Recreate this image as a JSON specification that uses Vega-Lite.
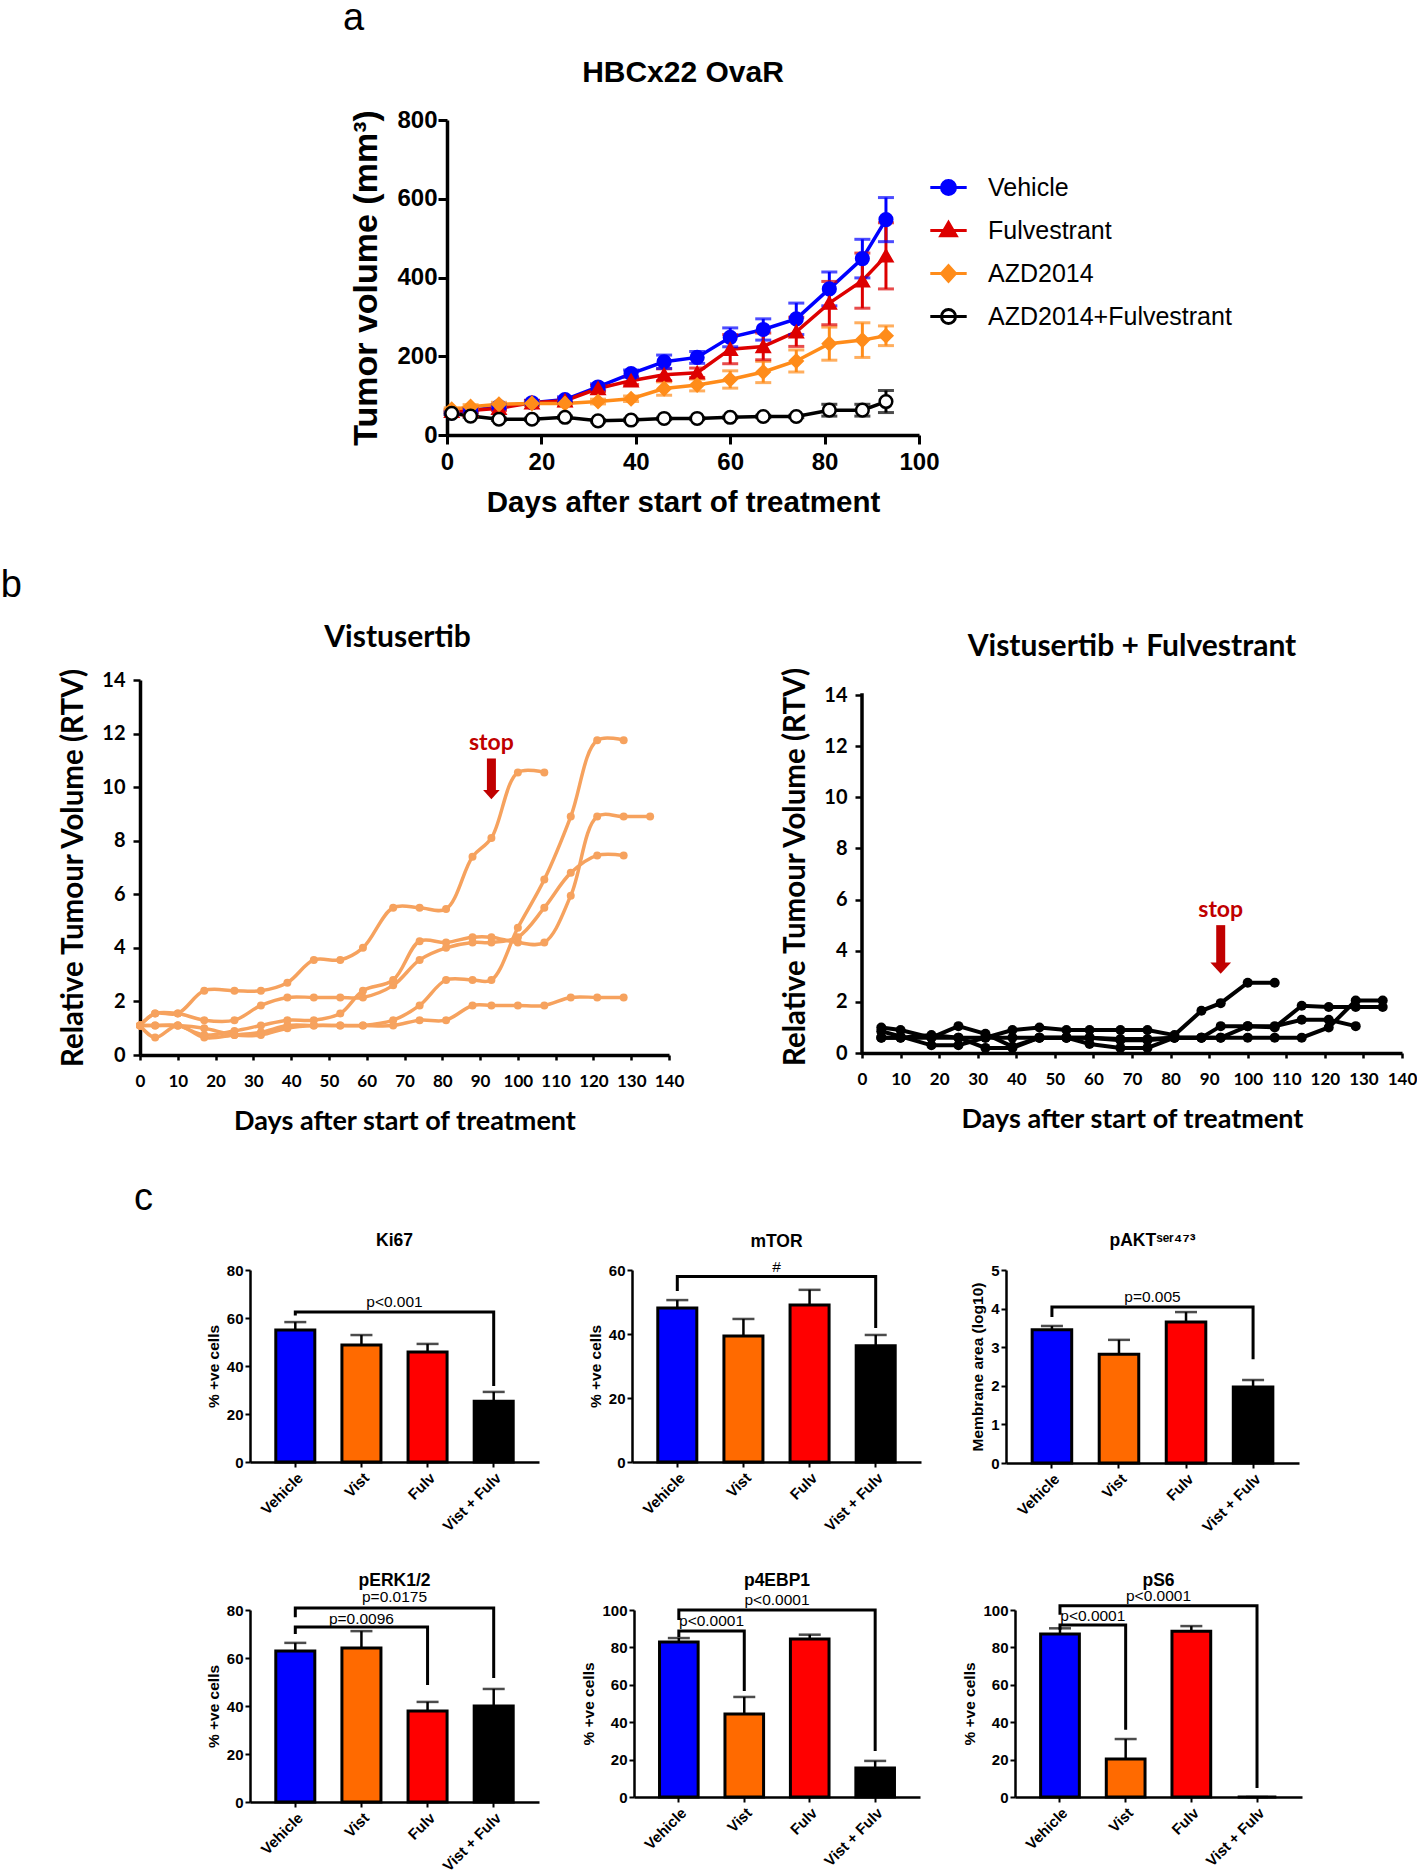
{
"$schema": "https://vega.github.io/schema/vega-lite/v6.json",
"background": "white",
"padding": {"left": 0, "right": 0, "top": 0, "bottom": 0},
"autosize": {"type": "pad"},
"config": {
  "view": {"stroke": null},
  "axis": {"grid": false, "domainColor": "black", "tickColor": "black", "labelColor": "black", "titleColor": "black", "labelOverlap": false},
  "title": {"color": "black"}
},
"datasets": {
  "tumor": [
    {"group":"Vehicle","day":1,"vol":56,"lo":52,"hi":60},{"group":"Vehicle","day":5,"vol":62,"lo":57,"hi":67},{"group":"Vehicle","day":11,"vol":72,"lo":66,"hi":78},{"group":"Vehicle","day":18,"vol":82,"lo":76,"hi":88},{"group":"Vehicle","day":25,"vol":90,"lo":83,"hi":97},{"group":"Vehicle","day":32,"vol":122,"lo":114,"hi":130},{"group":"Vehicle","day":39,"vol":156,"lo":147,"hi":165},{"group":"Vehicle","day":46,"vol":186,"lo":169,"hi":203},{"group":"Vehicle","day":53,"vol":197,"lo":182,"hi":212},{"group":"Vehicle","day":60,"vol":248,"lo":224,"hi":272},{"group":"Vehicle","day":67,"vol":268,"lo":241,"hi":295},{"group":"Vehicle","day":74,"vol":295,"lo":255,"hi":335},{"group":"Vehicle","day":81,"vol":371,"lo":328,"hi":414},{"group":"Vehicle","day":88,"vol":448,"lo":399,"hi":497},{"group":"Vehicle","day":93,"vol":547,"lo":491,"hi":603},
    {"group":"Fulvestrant","day":1,"vol":60,"lo":56,"hi":64},{"group":"Fulvestrant","day":5,"vol":62,"lo":57,"hi":67},{"group":"Fulvestrant","day":11,"vol":68,"lo":62,"hi":74},{"group":"Fulvestrant","day":18,"vol":82,"lo":76,"hi":88},{"group":"Fulvestrant","day":25,"vol":87,"lo":81,"hi":93},{"group":"Fulvestrant","day":32,"vol":118,"lo":110,"hi":126},{"group":"Fulvestrant","day":39,"vol":138,"lo":128,"hi":148},{"group":"Fulvestrant","day":46,"vol":153,"lo":138,"hi":168},{"group":"Fulvestrant","day":53,"vol":158,"lo":146,"hi":170},{"group":"Fulvestrant","day":60,"vol":218,"lo":181,"hi":255},{"group":"Fulvestrant","day":67,"vol":225,"lo":191,"hi":259},{"group":"Fulvestrant","day":74,"vol":262,"lo":225,"hi":299},{"group":"Fulvestrant","day":81,"vol":335,"lo":280,"hi":390},{"group":"Fulvestrant","day":88,"vol":392,"lo":322,"hi":462},{"group":"Fulvestrant","day":93,"vol":455,"lo":371,"hi":539},
    {"group":"AZD2014","day":1,"vol":65,"lo":61,"hi":69},{"group":"AZD2014","day":5,"vol":72,"lo":67,"hi":77},{"group":"AZD2014","day":11,"vol":78,"lo":73,"hi":83},{"group":"AZD2014","day":18,"vol":80,"lo":75,"hi":85},{"group":"AZD2014","day":25,"vol":80,"lo":74,"hi":86},{"group":"AZD2014","day":32,"vol":85,"lo":79,"hi":91},{"group":"AZD2014","day":39,"vol":92,"lo":85,"hi":99},{"group":"AZD2014","day":46,"vol":118,"lo":101,"hi":135},{"group":"AZD2014","day":53,"vol":127,"lo":112,"hi":142},{"group":"AZD2014","day":60,"vol":141,"lo":119,"hi":163},{"group":"AZD2014","day":67,"vol":160,"lo":133,"hi":187},{"group":"AZD2014","day":74,"vol":188,"lo":160,"hi":216},{"group":"AZD2014","day":81,"vol":232,"lo":190,"hi":274},{"group":"AZD2014","day":88,"vol":241,"lo":197,"hi":285},{"group":"AZD2014","day":93,"vol":252,"lo":227,"hi":277},
    {"group":"AZD2014+Fulvestrant","day":1,"vol":55,"lo":52,"hi":58},{"group":"AZD2014+Fulvestrant","day":5,"vol":48,"lo":45,"hi":51},{"group":"AZD2014+Fulvestrant","day":11,"vol":40,"lo":37,"hi":43},{"group":"AZD2014+Fulvestrant","day":18,"vol":40,"lo":37,"hi":43},{"group":"AZD2014+Fulvestrant","day":25,"vol":45,"lo":42,"hi":48},{"group":"AZD2014+Fulvestrant","day":32,"vol":36,"lo":33,"hi":39},{"group":"AZD2014+Fulvestrant","day":39,"vol":38,"lo":35,"hi":41},{"group":"AZD2014+Fulvestrant","day":46,"vol":42,"lo":39,"hi":45},{"group":"AZD2014+Fulvestrant","day":53,"vol":42,"lo":39,"hi":45},{"group":"AZD2014+Fulvestrant","day":60,"vol":45,"lo":42,"hi":48},{"group":"AZD2014+Fulvestrant","day":67,"vol":47,"lo":44,"hi":50},{"group":"AZD2014+Fulvestrant","day":74,"vol":47,"lo":44,"hi":50},{"group":"AZD2014+Fulvestrant","day":81,"vol":63,"lo":48,"hi":78},{"group":"AZD2014+Fulvestrant","day":88,"vol":63,"lo":48,"hi":78},{"group":"AZD2014+Fulvestrant","day":93,"vol":85,"lo":57,"hi":113}
  ],
  "rtv": [
    {"panel":"L","m":"A","day":0,"rtv":1.1},{"panel":"L","m":"A","day":4,"rtv":1.55},{"panel":"L","m":"A","day":10,"rtv":1.55},{"panel":"L","m":"A","day":17,"rtv":2.4},{"panel":"L","m":"A","day":25,"rtv":2.4},{"panel":"L","m":"A","day":32,"rtv":2.4},{"panel":"L","m":"A","day":39,"rtv":2.7},{"panel":"L","m":"A","day":46,"rtv":3.55},{"panel":"L","m":"A","day":53,"rtv":3.55},{"panel":"L","m":"A","day":59,"rtv":4.0},{"panel":"L","m":"A","day":67,"rtv":5.5},{"panel":"L","m":"A","day":74,"rtv":5.5},{"panel":"L","m":"A","day":81,"rtv":5.45},{"panel":"L","m":"A","day":88,"rtv":7.4},{"panel":"L","m":"A","day":93,"rtv":8.1},{"panel":"L","m":"A","day":100,"rtv":10.55},{"panel":"L","m":"A","day":107,"rtv":10.55},
    {"panel":"L","m":"B","day":0,"rtv":1.1},{"panel":"L","m":"B","day":4,"rtv":0.65},{"panel":"L","m":"B","day":10,"rtv":1.1},{"panel":"L","m":"B","day":17,"rtv":0.65},{"panel":"L","m":"B","day":25,"rtv":0.75},{"panel":"L","m":"B","day":32,"rtv":0.85},{"panel":"L","m":"B","day":39,"rtv":1.1},{"panel":"L","m":"B","day":46,"rtv":1.1},{"panel":"L","m":"B","day":53,"rtv":1.1},{"panel":"L","m":"B","day":59,"rtv":1.1},{"panel":"L","m":"B","day":67,"rtv":1.3},{"panel":"L","m":"B","day":74,"rtv":1.85},{"panel":"L","m":"B","day":81,"rtv":2.8},{"panel":"L","m":"B","day":88,"rtv":2.8},{"panel":"L","m":"B","day":93,"rtv":2.8},{"panel":"L","m":"B","day":100,"rtv":4.75},{"panel":"L","m":"B","day":107,"rtv":6.55},{"panel":"L","m":"B","day":114,"rtv":8.9},{"panel":"L","m":"B","day":121,"rtv":11.75},{"panel":"L","m":"B","day":128,"rtv":11.75},
    {"panel":"L","m":"C","day":0,"rtv":1.1},{"panel":"L","m":"C","day":4,"rtv":1.1},{"panel":"L","m":"C","day":10,"rtv":1.1},{"panel":"L","m":"C","day":17,"rtv":0.75},{"panel":"L","m":"C","day":25,"rtv":0.9},{"panel":"L","m":"C","day":32,"rtv":1.1},{"panel":"L","m":"C","day":39,"rtv":1.3},{"panel":"L","m":"C","day":46,"rtv":1.3},{"panel":"L","m":"C","day":53,"rtv":1.55},{"panel":"L","m":"C","day":59,"rtv":2.4},{"panel":"L","m":"C","day":67,"rtv":2.8},{"panel":"L","m":"C","day":74,"rtv":4.25},{"panel":"L","m":"C","day":81,"rtv":4.2},{"panel":"L","m":"C","day":88,"rtv":4.4},{"panel":"L","m":"C","day":93,"rtv":4.4},{"panel":"L","m":"C","day":100,"rtv":4.2},{"panel":"L","m":"C","day":107,"rtv":4.2},{"panel":"L","m":"C","day":114,"rtv":5.95},{"panel":"L","m":"C","day":121,"rtv":8.9},{"panel":"L","m":"C","day":128,"rtv":8.9},{"panel":"L","m":"C","day":135,"rtv":8.9},
    {"panel":"L","m":"D","day":0,"rtv":1.1},{"panel":"L","m":"D","day":4,"rtv":1.55},{"panel":"L","m":"D","day":10,"rtv":1.55},{"panel":"L","m":"D","day":17,"rtv":1.3},{"panel":"L","m":"D","day":25,"rtv":1.3},{"panel":"L","m":"D","day":32,"rtv":1.85},{"panel":"L","m":"D","day":39,"rtv":2.15},{"panel":"L","m":"D","day":46,"rtv":2.15},{"panel":"L","m":"D","day":53,"rtv":2.15},{"panel":"L","m":"D","day":59,"rtv":2.15},{"panel":"L","m":"D","day":67,"rtv":2.6},{"panel":"L","m":"D","day":74,"rtv":3.55},{"panel":"L","m":"D","day":81,"rtv":4.0},{"panel":"L","m":"D","day":88,"rtv":4.2},{"panel":"L","m":"D","day":93,"rtv":4.2},{"panel":"L","m":"D","day":100,"rtv":4.4},{"panel":"L","m":"D","day":107,"rtv":5.5},{"panel":"L","m":"D","day":114,"rtv":6.8},{"panel":"L","m":"D","day":121,"rtv":7.45},{"panel":"L","m":"D","day":128,"rtv":7.45},
    {"panel":"L","m":"E","day":0,"rtv":1.1},{"panel":"L","m":"E","day":4,"rtv":1.1},{"panel":"L","m":"E","day":10,"rtv":1.1},{"panel":"L","m":"E","day":17,"rtv":1.0},{"panel":"L","m":"E","day":25,"rtv":0.75},{"panel":"L","m":"E","day":32,"rtv":0.75},{"panel":"L","m":"E","day":39,"rtv":1.0},{"panel":"L","m":"E","day":46,"rtv":1.1},{"panel":"L","m":"E","day":53,"rtv":1.1},{"panel":"L","m":"E","day":59,"rtv":1.1},{"panel":"L","m":"E","day":67,"rtv":1.1},{"panel":"L","m":"E","day":74,"rtv":1.3},{"panel":"L","m":"E","day":81,"rtv":1.3},{"panel":"L","m":"E","day":88,"rtv":1.85},{"panel":"L","m":"E","day":93,"rtv":1.85},{"panel":"L","m":"E","day":100,"rtv":1.85},{"panel":"L","m":"E","day":107,"rtv":1.85},{"panel":"L","m":"E","day":114,"rtv":2.15},{"panel":"L","m":"E","day":121,"rtv":2.15},{"panel":"L","m":"E","day":128,"rtv":2.15},
    {"panel":"R","m":"S1","day":5,"rtv":1.0},{"panel":"R","m":"S1","day":10,"rtv":0.9},{"panel":"R","m":"S1","day":18,"rtv":0.6},{"panel":"R","m":"S1","day":25,"rtv":0.6},{"panel":"R","m":"S1","day":32,"rtv":0.6},{"panel":"R","m":"S1","day":39,"rtv":0.9},{"panel":"R","m":"S1","day":46,"rtv":1.0},{"panel":"R","m":"S1","day":53,"rtv":0.9},{"panel":"R","m":"S1","day":59,"rtv":0.9},{"panel":"R","m":"S1","day":67,"rtv":0.9},{"panel":"R","m":"S1","day":74,"rtv":0.9},{"panel":"R","m":"S1","day":81,"rtv":0.7},{"panel":"R","m":"S1","day":88,"rtv":1.65},{"panel":"R","m":"S1","day":93,"rtv":1.95},{"panel":"R","m":"S1","day":100,"rtv":2.75},{"panel":"R","m":"S1","day":107,"rtv":2.75},
    {"panel":"R","m":"S2","day":5,"rtv":0.85},{"panel":"R","m":"S2","day":10,"rtv":0.65},{"panel":"R","m":"S2","day":18,"rtv":0.3},{"panel":"R","m":"S2","day":25,"rtv":0.3},{"panel":"R","m":"S2","day":32,"rtv":0.6},{"panel":"R","m":"S2","day":39,"rtv":0.6},{"panel":"R","m":"S2","day":46,"rtv":0.6},{"panel":"R","m":"S2","day":53,"rtv":0.6},{"panel":"R","m":"S2","day":59,"rtv":0.6},{"panel":"R","m":"S2","day":67,"rtv":0.55},{"panel":"R","m":"S2","day":74,"rtv":0.55},{"panel":"R","m":"S2","day":81,"rtv":0.6},{"panel":"R","m":"S2","day":88,"rtv":0.6},{"panel":"R","m":"S2","day":93,"rtv":1.05},{"panel":"R","m":"S2","day":100,"rtv":1.05},{"panel":"R","m":"S2","day":107,"rtv":1.0},{"panel":"R","m":"S2","day":114,"rtv":1.85},{"panel":"R","m":"S2","day":121,"rtv":1.8},{"panel":"R","m":"S2","day":128,"rtv":1.8},{"panel":"R","m":"S2","day":135,"rtv":1.8},
    {"panel":"R","m":"S3","day":5,"rtv":0.6},{"panel":"R","m":"S3","day":10,"rtv":0.6},{"panel":"R","m":"S3","day":18,"rtv":0.6},{"panel":"R","m":"S3","day":25,"rtv":1.05},{"panel":"R","m":"S3","day":32,"rtv":0.75},{"panel":"R","m":"S3","day":39,"rtv":0.25},{"panel":"R","m":"S3","day":46,"rtv":0.6},{"panel":"R","m":"S3","day":53,"rtv":0.6},{"panel":"R","m":"S3","day":59,"rtv":0.35},{"panel":"R","m":"S3","day":67,"rtv":0.2},{"panel":"R","m":"S3","day":74,"rtv":0.2},{"panel":"R","m":"S3","day":81,"rtv":0.6},{"panel":"R","m":"S3","day":88,"rtv":0.6},{"panel":"R","m":"S3","day":93,"rtv":0.6},{"panel":"R","m":"S3","day":100,"rtv":1.05},{"panel":"R","m":"S3","day":107,"rtv":1.05},{"panel":"R","m":"S3","day":114,"rtv":1.3},{"panel":"R","m":"S3","day":121,"rtv":1.3},{"panel":"R","m":"S3","day":128,"rtv":1.05},
    {"panel":"R","m":"S4","day":5,"rtv":0.6},{"panel":"R","m":"S4","day":10,"rtv":0.6},{"panel":"R","m":"S4","day":18,"rtv":0.7},{"panel":"R","m":"S4","day":25,"rtv":0.6},{"panel":"R","m":"S4","day":32,"rtv":0.2},{"panel":"R","m":"S4","day":39,"rtv":0.2},{"panel":"R","m":"S4","day":46,"rtv":0.6},{"panel":"R","m":"S4","day":53,"rtv":0.6},{"panel":"R","m":"S4","day":59,"rtv":0.6},{"panel":"R","m":"S4","day":67,"rtv":0.5},{"panel":"R","m":"S4","day":74,"rtv":0.5},{"panel":"R","m":"S4","day":81,"rtv":0.6},{"panel":"R","m":"S4","day":88,"rtv":0.6},{"panel":"R","m":"S4","day":93,"rtv":0.6},{"panel":"R","m":"S4","day":100,"rtv":0.6},{"panel":"R","m":"S4","day":107,"rtv":0.6},{"panel":"R","m":"S4","day":114,"rtv":0.6},{"panel":"R","m":"S4","day":121,"rtv":1.0},{"panel":"R","m":"S4","day":128,"rtv":2.05},{"panel":"R","m":"S4","day":135,"rtv":2.05}
  ],
  "stop": [
    {"panel":"L","day":93,"top":11.07,"bot":9.8,"tip":9.72,"ty":11.65,"label":"stop"},
    {"panel":"R","day":93,"top":5.0,"bot":3.4,"tip":3.32,"ty":5.58,"label":"stop"}
  ],
  "bars": [
    {"chart":"Ki67","cat":"Vehicle","idx":0,"val":55,"top":58.3},{"chart":"Ki67","cat":"Vist","idx":1,"val":48.8,"top":52.9},{"chart":"Ki67","cat":"Fulv","idx":2,"val":45.8,"top":49.2},{"chart":"Ki67","cat":"Vist + Fulv","idx":3,"val":25.3,"top":29.2},
    {"chart":"mTOR","cat":"Vehicle","idx":0,"val":48.1,"top":50.6},{"chart":"mTOR","cat":"Vist","idx":1,"val":39.4,"top":44.7},{"chart":"mTOR","cat":"Fulv","idx":2,"val":49.1,"top":53.8},{"chart":"mTOR","cat":"Vist + Fulv","idx":3,"val":36.3,"top":39.7},
    {"chart":"pAKT","cat":"Vehicle","idx":0,"val":3.45,"top":3.55},{"chart":"pAKT","cat":"Vist","idx":1,"val":2.82,"top":3.19},{"chart":"pAKT","cat":"Fulv","idx":2,"val":3.65,"top":3.91},{"chart":"pAKT","cat":"Vist + Fulv","idx":3,"val":1.97,"top":2.15},
    {"chart":"pERK","cat":"Vehicle","idx":0,"val":62.9,"top":66.3},{"chart":"pERK","cat":"Vist","idx":1,"val":64.2,"top":71.2},{"chart":"pERK","cat":"Fulv","idx":2,"val":37.9,"top":41.7},{"chart":"pERK","cat":"Vist + Fulv","idx":3,"val":40,"top":47.1},
    {"chart":"p4EBP1","cat":"Vehicle","idx":0,"val":82.9,"top":85},{"chart":"p4EBP1","cat":"Vist","idx":1,"val":44.4,"top":53.5},{"chart":"p4EBP1","cat":"Fulv","idx":2,"val":84.5,"top":86.8},{"chart":"p4EBP1","cat":"Vist + Fulv","idx":3,"val":15.5,"top":19.3},
    {"chart":"pS6","cat":"Vehicle","idx":0,"val":87.2,"top":90.2},{"chart":"pS6","cat":"Vist","idx":1,"val":20.3,"top":31},{"chart":"pS6","cat":"Fulv","idx":2,"val":88.6,"top":91.4},{"chart":"pS6","cat":"Vist + Fulv","idx":3,"val":0,"top":0}
  ],
  "brk": [
    {"chart":"Ki67","b":"1","seq":1,"x":0,"y":61},{"chart":"Ki67","b":"1","seq":2,"x":0,"y":62.5},{"chart":"Ki67","b":"1","seq":3,"x":3,"y":62.5},{"chart":"Ki67","b":"1","seq":4,"x":3,"y":31.7},
    {"chart":"mTOR","b":"1","seq":1,"x":0,"y":53.4},{"chart":"mTOR","b":"1","seq":2,"x":0,"y":58},{"chart":"mTOR","b":"1","seq":3,"x":3,"y":58},{"chart":"mTOR","b":"1","seq":4,"x":3,"y":41.9},
    {"chart":"pAKT","b":"1","seq":1,"x":0,"y":3.78},{"chart":"pAKT","b":"1","seq":2,"x":0,"y":4.04},{"chart":"pAKT","b":"1","seq":3,"x":3,"y":4.04},{"chart":"pAKT","b":"1","seq":4,"x":3,"y":2.69},
    {"chart":"pERK","b":"1","seq":1,"x":0,"y":77},{"chart":"pERK","b":"1","seq":2,"x":0,"y":80.8},{"chart":"pERK","b":"1","seq":3,"x":3,"y":80.8},{"chart":"pERK","b":"1","seq":4,"x":3,"y":51.7},
    {"chart":"pERK","b":"2","seq":1,"x":0,"y":70},{"chart":"pERK","b":"2","seq":2,"x":0,"y":72.9},{"chart":"pERK","b":"2","seq":3,"x":2,"y":72.9},{"chart":"pERK","b":"2","seq":4,"x":2,"y":48.7},
    {"chart":"p4EBP1","b":"1","seq":1,"x":0,"y":94.6},{"chart":"p4EBP1","b":"1","seq":2,"x":0,"y":100},{"chart":"p4EBP1","b":"1","seq":3,"x":3,"y":100},{"chart":"p4EBP1","b":"1","seq":4,"x":3,"y":24.6},
    {"chart":"p4EBP1","b":"2","seq":1,"x":0,"y":85.5},{"chart":"p4EBP1","b":"2","seq":2,"x":0,"y":88.8},{"chart":"p4EBP1","b":"2","seq":3,"x":1,"y":88.8},{"chart":"p4EBP1","b":"2","seq":4,"x":1,"y":56.7},
    {"chart":"pS6","b":"1","seq":1,"x":0,"y":97.5},{"chart":"pS6","b":"1","seq":2,"x":0,"y":102.3},{"chart":"pS6","b":"1","seq":3,"x":3,"y":102.3},{"chart":"pS6","b":"1","seq":4,"x":3,"y":4.8},
    {"chart":"pS6","b":"2","seq":1,"x":0,"y":89.5},{"chart":"pS6","b":"2","seq":2,"x":0,"y":92},{"chart":"pS6","b":"2","seq":3,"x":1,"y":92},{"chart":"pS6","b":"2","seq":4,"x":1,"y":36}
  ],
  "ptxt": [
    {"chart":"Ki67","x":1.5,"y":66.5,"label":"p<0.001"},
    {"chart":"mTOR","x":1.5,"y":61,"label":"#"},
    {"chart":"pAKT","x":1.5,"y":4.29,"label":"p=0.005"},
    {"chart":"pERK","x":1.5,"y":85.4,"label":"p=0.0175"},{"chart":"pERK","x":1.0,"y":76.2,"label":"p=0.0096"},
    {"chart":"p4EBP1","x":1.5,"y":105.3,"label":"p<0.0001"},{"chart":"p4EBP1","x":0.5,"y":94.1,"label":"p<0.0001"},
    {"chart":"pS6","x":1.5,"y":107.5,"label":"p<0.0001"},{"chart":"pS6","x":0.5,"y":96.8,"label":"p<0.0001"}
  ]
},
"spacing": 50,
"vconcat": [
  {
    "title": {"text": "a", "anchor": "start", "dx": 203, "offset": 20, "font": "Liberation Sans", "fontSize": 38, "fontWeight": "normal"},
    "spacing": 0,
    "hconcat": [
      {"width": 209, "height": 10, "data": {"values": []}, "mark": "point"},
      {
        "width": 472, "height": 315,
        "title": {"text": "HBCx22 OvaR", "font": "Liberation Sans", "fontSize": 30, "fontWeight": "bold", "frame": "group", "offset": 20},
        "data": {"name": "tumor"},
        "layer": [
          {"mark": {"type": "line", "strokeWidth": 3.5},
           "encoding": {
             "x": {"field": "day", "type": "quantitative", "scale": {"domain": [0, 100], "nice": false}, "axis": {"values": [0,20,40,60,80,100], "tickCount": 30, "format": "d", "title": "Days after start of treatment", "titleFont": "Liberation Sans", "titleFontSize": 29.5, "titleFontWeight": "bold", "titlePadding": 14, "labelFont": "Liberation Sans", "labelFontSize": 24, "labelFontWeight": "bold", "labelPadding": 6, "tickSize": 9, "tickWidth": 3, "domainWidth": 3.5, "labelFlush": false}},
             "y": {"field": "vol", "type": "quantitative", "scale": {"domain": [0, 800], "nice": false}, "axis": {"values": [0,200,400,600,800], "tickCount": 30, "format": "d", "title": "Tumor volume (mm³)", "titleFont": "Liberation Sans", "titleFontSize": 34, "titleFontWeight": "bold", "titlePadding": 13, "labelFont": "Liberation Sans", "labelFontSize": 24, "labelFontWeight": "bold", "labelPadding": 1, "tickSize": 9, "tickWidth": 3, "domainWidth": 3.5}},
             "color": {"field": "group", "type": "nominal", "scale": {"domain": ["Vehicle","Fulvestrant","AZD2014","AZD2014+Fulvestrant"], "range": ["#0000FF","#DD0000","#FF8C1A","#000000"]}, "legend": null}
           }},
          {"mark": {"type": "rule", "strokeWidth": 3},
           "encoding": {"x": {"field": "day", "type": "quantitative"}, "y": {"field": "lo", "type": "quantitative"}, "y2": {"field": "hi"}, "color": {"field": "group", "type": "nominal", "legend": null}}},
          {"mark": {"type": "tick", "orient": "horizontal", "size": 16, "thickness": 3},
           "encoding": {"x": {"field": "day", "type": "quantitative"}, "y": {"field": "hi", "type": "quantitative"}, "color": {"field": "group", "type": "nominal", "legend": null}}},
          {"mark": {"type": "tick", "orient": "horizontal", "size": 16, "thickness": 3},
           "encoding": {"x": {"field": "day", "type": "quantitative"}, "y": {"field": "lo", "type": "quantitative"}, "color": {"field": "group", "type": "nominal", "legend": null}}},
          {"mark": {"type": "point", "filled": true, "size": 160, "strokeWidth": 2.5, "opacity": 1},
           "encoding": {
             "x": {"field": "day", "type": "quantitative"},
             "y": {"field": "vol", "type": "quantitative"},
             "shape": {"field": "group", "type": "nominal", "scale": {"domain": ["Vehicle","Fulvestrant","AZD2014","AZD2014+Fulvestrant"], "range": ["circle","triangle-up","diamond","circle"]}, "legend": null},
             "fill": {"field": "group", "type": "nominal", "scale": {"domain": ["Vehicle","Fulvestrant","AZD2014","AZD2014+Fulvestrant"], "range": ["#0000FF","#DD0000","#FF8C1A","#FFFFFF"]}, "legend": null},
             "stroke": {"field": "group", "type": "nominal", "scale": {"domain": ["Vehicle","Fulvestrant","AZD2014","AZD2014+Fulvestrant"], "range": ["#0000FF","#DD0000","#FF8C1A","#000000"]}, "legend": null}
           }},
          {"transform": [{"filter": "false"}],
           "mark": {"type": "point", "filled": true, "size": 196, "strokeWidth": 3, "opacity": 1},
           "encoding": {
             "x": {"field": "day", "type": "quantitative"},
             "y": {"field": "vol", "type": "quantitative"},
             "shape": {"field": "group", "type": "nominal", "scale": {"domain": ["Vehicle","Fulvestrant","AZD2014","AZD2014+Fulvestrant"], "range": ["M-2.6,0H2.6M-1,0A1,1,0,1,1,1,0A1,1,0,1,1,-1,0Z","M-2.6,0H2.6M0,-1.15L1.1,0.75L-1.1,0.75Z","M-2.6,0H2.6M0,-1.1L1,0L0,1.1L-1,0Z","M-2.6,0H2.6M-1,0A1,1,0,1,1,1,0A1,1,0,1,1,-1,0Z"]},
               "legend": {"orient": "none", "legendX": 489, "legendY": 55, "title": null, "labelFont": "Liberation Sans", "labelFontSize": 25, "labelColor": "black", "symbolSize": 196, "symbolStrokeWidth": 3, "labelOffset": 27, "rowPadding": 15, "padding": 0, "labelLimit": 400}},
             "fill": {"field": "group", "type": "nominal", "scale": {"domain": ["Vehicle","Fulvestrant","AZD2014","AZD2014+Fulvestrant"], "range": ["#0000FF","#DD0000","#FF8C1A","#FFFFFF"]},
               "legend": {"orient": "none", "legendX": 489, "legendY": 55, "title": null, "labelFont": "Liberation Sans", "labelFontSize": 25, "labelColor": "black", "symbolSize": 196, "symbolStrokeWidth": 3, "labelOffset": 27, "rowPadding": 15, "padding": 0, "labelLimit": 400}},
             "stroke": {"field": "group", "type": "nominal", "scale": {"domain": ["Vehicle","Fulvestrant","AZD2014","AZD2014+Fulvestrant"], "range": ["#0000FF","#DD0000","#FF8C1A","#000000"]},
               "legend": {"orient": "none", "legendX": 489, "legendY": 55, "title": null, "labelFont": "Liberation Sans", "labelFontSize": 25, "labelColor": "black", "symbolSize": 196, "symbolStrokeWidth": 3, "labelOffset": 27, "rowPadding": 15, "padding": 0, "labelLimit": 400}}
           }}
        ],
        "resolve": {"scale": {"shape": "independent", "fill": "independent", "stroke": "independent"}, "legend": {"shape": "independent", "fill": "independent", "stroke": "independent"}}
      }
    ]
  },
  {
    "spacing": 45,
    "vconcat": [
      {
        "title": {"text": "b", "anchor": "start", "dx": -58, "offset": 18, "font": "Liberation Sans", "fontSize": 38, "fontWeight": "normal"},
        "spacing": 96,
        "columns": 2,
        "align": "none",
        "concat": [
          {
            "width": 529, "height": 375,
            "title": {"text": "Vistusertib", "font": "Lato", "fontSize": 30, "fontWeight": "bold", "frame": "group", "offset": 14, "dx": -7},
            "layer": [
              {"data": {"name": "rtv"}, "transform": [{"filter": "datum.panel === 'L'"}],
               "mark": {"type": "line", "interpolate": "catmull-rom", "strokeWidth": 3.5, "color": "#F6A25E"},
               "encoding": {
                 "x": {"field": "day", "type": "quantitative", "scale": {"domain": [0, 140], "nice": false}, "axis": {"values": [0,10,20,30,40,50,60,70,80,90,100,110,120,130,140], "tickCount": 30, "format": "d", "title": "Days after start of treatment", "titleFont": "Lato", "titleFontSize": 27, "titleFontWeight": "bold", "titlePadding": 19, "labelFont": "Lato", "labelFontSize": 17, "labelFontWeight": "bold", "labelPadding": 13, "tickSize": 5, "tickWidth": 2.5, "domainWidth": 3.5, "labelFlush": false, "labelOverlap": false}},
                 "y": {"field": "rtv", "type": "quantitative", "scale": {"domain": [0, 14], "nice": false}, "axis": {"values": [0,2,4,6,8,10,12,14], "tickCount": 30, "format": "d", "title": "Relative Tumour Volume (RTV)", "titleFont": "Lato", "titleFontSize": 29.5, "titleFontWeight": "bold", "titlePadding": 13, "labelFont": "Lato", "labelFontSize": 20, "labelFontWeight": "bold", "labelPadding": 8, "tickSize": 7, "tickWidth": 2.5, "domainWidth": 3.5}},
                 "detail": {"field": "m", "type": "nominal"}
               }},
              {"data": {"name": "rtv"}, "transform": [{"filter": "datum.panel === 'L'"}],
               "mark": {"type": "point", "filled": true, "size": 64, "color": "#F6A25E", "opacity": 1},
               "encoding": {"x": {"field": "day", "type": "quantitative"}, "y": {"field": "rtv", "type": "quantitative"}}},
              {"data": {"name": "stop"}, "transform": [{"filter": "datum.panel === 'L'"}],
               "mark": {"type": "rule", "strokeWidth": 9, "color": "#C00000"},
               "encoding": {"x": {"field": "day", "type": "quantitative"}, "y": {"field": "top", "type": "quantitative"}, "y2": {"field": "bot"}}},
              {"data": {"name": "stop"}, "transform": [{"filter": "datum.panel === 'L'"}],
               "mark": {"type": "point", "shape": "M-1,-0.55L1,-0.55L0,0.55Z", "filled": true, "size": 276, "color": "#C00000", "opacity": 1},
               "encoding": {"x": {"field": "day", "type": "quantitative"}, "y": {"field": "tip", "type": "quantitative"}}},
              {"data": {"name": "stop"}, "transform": [{"filter": "datum.panel === 'L'"}],
               "mark": {"type": "text", "font": "Lato", "fontWeight": "bold", "fontSize": 23, "color": "#C00000", "baseline": "middle"},
               "encoding": {"x": {"field": "day", "type": "quantitative"}, "y": {"field": "ty", "type": "quantitative"}, "text": {"field": "label"}}}
            ]
          },
          {
            "width": 540, "height": 373,
            "title": {"text": "Vistusertib + Fulvestrant", "font": "Lato", "fontSize": 30, "fontWeight": "bold", "frame": "group", "offset": 4.5},
            "layer": [
              {"data": {"name": "rtv"}, "transform": [{"filter": "datum.panel === 'R'"}],
               "mark": {"type": "line", "strokeWidth": 4, "color": "black"},
               "encoding": {
                 "x": {"field": "day", "type": "quantitative", "scale": {"domain": [0, 140], "nice": false}, "axis": {"values": [0,10,20,30,40,50,60,70,80,90,100,110,120,130,140], "tickCount": 30, "format": "d", "title": "Days after start of treatment", "titleFont": "Lato", "titleFontSize": 27, "titleFontWeight": "bold", "titlePadding": 19, "labelFont": "Lato", "labelFontSize": 17, "labelFontWeight": "bold", "labelPadding": 13, "tickSize": 5, "tickWidth": 2.5, "domainWidth": 3.5, "labelFlush": false, "labelOverlap": false}},
                 "y": {"field": "rtv", "type": "quantitative", "scale": {"domain": [0, 14.587], "nice": false}, "axis": {"values": [0,2,4,6,8,10,12,14], "tickCount": 30, "format": "d", "domain": false, "title": "Relative Tumour Volume (RTV)", "titleFont": "Lato", "titleFontSize": 29.5, "titleFontWeight": "bold", "titlePadding": 13, "labelFont": "Lato", "labelFontSize": 20, "labelFontWeight": "bold", "labelPadding": 8, "tickSize": 7, "tickWidth": 2.5}},
                 "detail": {"field": "m", "type": "nominal"}
               }},
              {"data": {"values": [{}]},
               "mark": {"type": "rule", "strokeWidth": 3.5, "color": "black", "strokeCap": "square"},
               "encoding": {"x": {"datum": 0, "type": "quantitative"}, "y": {"datum": 0, "type": "quantitative"}, "y2": {"datum": 14}}},
              {"data": {"name": "rtv"}, "transform": [{"filter": "datum.panel === 'R'"}],
               "mark": {"type": "point", "filled": true, "size": 100, "color": "black", "opacity": 1},
               "encoding": {"x": {"field": "day", "type": "quantitative"}, "y": {"field": "rtv", "type": "quantitative"}}},
              {"data": {"name": "stop"}, "transform": [{"filter": "datum.panel === 'R'"}],
               "mark": {"type": "rule", "strokeWidth": 9, "color": "#C00000"},
               "encoding": {"x": {"field": "day", "type": "quantitative"}, "y": {"field": "top", "type": "quantitative"}, "y2": {"field": "bot"}}},
              {"data": {"name": "stop"}, "transform": [{"filter": "datum.panel === 'R'"}],
               "mark": {"type": "point", "shape": "M-1,-0.55L1,-0.55L0,0.55Z", "filled": true, "size": 428, "color": "#C00000", "opacity": 1},
               "encoding": {"x": {"field": "day", "type": "quantitative"}, "y": {"field": "tip", "type": "quantitative"}}},
              {"data": {"name": "stop"}, "transform": [{"filter": "datum.panel === 'R'"}],
               "mark": {"type": "text", "font": "Lato", "fontWeight": "bold", "fontSize": 23, "color": "#C00000", "baseline": "middle"},
               "encoding": {"x": {"field": "day", "type": "quantitative"}, "y": {"field": "ty", "type": "quantitative"}, "text": {"field": "label"}}}
            ]
          }
        ]
      },
      {
        "title": {"text": "c", "anchor": "start", "dx": -6, "offset": 14, "font": "Liberation Sans", "fontSize": 38, "fontWeight": "normal"},
        "spacing": 36,
        "vconcat": [
          {
            "spacing": 49,
            "hconcat": [
              {"width": 17, "height": 10, "data": {"values": []}, "mark": "point"},
              {
                "width": 289, "height": 192,
                "title": {"text": "Ki67", "font": "Liberation Sans", "fontSize": 17.5, "fontWeight": "bold", "frame": "group", "offset": 14},
                "layer": [
                  {"data": {"name": "bars"}, "transform": [{"filter": "datum.chart === 'Ki67'"}],
                   "mark": {"type": "bar", "stroke": "black", "strokeWidth": 3},
                   "encoding": {
                     "x": {"field": "cat", "type": "nominal", "sort": null, "scale": {"domain": ["Vehicle","Vist","Fulv","Vist + Fulv"], "paddingInner": 0.41, "paddingOuter": 0.39}, "axis": {"title": null, "labelAngle": -45, "labelAlign": "right", "labelBaseline": "top", "labelFont": "Liberation Sans", "labelFontSize": 15, "labelFontWeight": "bold", "labelPadding": 3, "tickSize": 5, "tickWidth": 2, "domainWidth": 2.5}},
                     "y": {"field": "val", "type": "quantitative", "scale": {"domain": [0, 80], "nice": false}, "axis": {"values": [0,20,40,60,80], "tickCount": 30, "format": "d", "title": "% +ve cells", "titleFont": "Liberation Sans", "titleFontSize": 15.5, "titleFontWeight": "bold", "titlePadding": 5, "labelFont": "Liberation Sans", "labelFontSize": 15, "labelFontWeight": "bold", "labelPadding": 2, "tickSize": 5, "tickWidth": 2, "domainWidth": 2.5}},
                     "fill": {"field": "cat", "type": "nominal", "scale": {"domain": ["Vehicle","Vist","Fulv","Vist + Fulv"], "range": ["#0000FF","#FF6A00","#FF0000","#000000"]}, "legend": null}
                   }},
                  {"data": {"name": "bars"}, "transform": [{"filter": "datum.chart === 'Ki67'"}],
                   "mark": {"type": "rule", "color": "black", "strokeWidth": 2.5},
                   "encoding": {"x": {"field": "idx", "type": "quantitative", "scale": {"domain": [-0.685, 3.685], "nice": false, "zero": false}, "axis": null}, "y": {"field": "val", "type": "quantitative", "scale": {"domain": [0, 80]}}, "y2": {"field": "top"}}},
                  {"data": {"name": "bars"}, "transform": [{"filter": "datum.chart === 'Ki67'"}],
                   "mark": {"type": "tick", "orient": "horizontal", "size": 22, "thickness": 2.5, "color": "black"},
                   "encoding": {"x": {"field": "idx", "type": "quantitative", "scale": {"domain": [-0.685, 3.685], "nice": false, "zero": false}, "axis": null}, "y": {"field": "top", "type": "quantitative", "scale": {"domain": [0, 80]}}}},
                  {"data": {"name": "brk"}, "transform": [{"filter": "datum.chart === 'Ki67'"}],
                   "mark": {"type": "line", "color": "black", "strokeWidth": 3},
                   "encoding": {"x": {"field": "x", "type": "quantitative", "scale": {"domain": [-0.685, 3.685], "nice": false, "zero": false}, "axis": null}, "y": {"field": "y", "type": "quantitative", "scale": {"domain": [0, 80]}}, "detail": {"field": "b", "type": "nominal"}, "order": {"field": "seq", "type": "quantitative"}}},
                  {"data": {"name": "ptxt"}, "transform": [{"filter": "datum.chart === 'Ki67'"}],
                   "mark": {"type": "text", "font": "Liberation Sans", "fontSize": 15.5, "baseline": "middle", "color": "black"},
                   "encoding": {"x": {"field": "x", "type": "quantitative", "scale": {"domain": [-0.685, 3.685], "nice": false, "zero": false}, "axis": null}, "y": {"field": "y", "type": "quantitative", "scale": {"domain": [0, 80]}}, "text": {"field": "label"}}}
                ],
                "resolve": {"scale": {"x": "independent"}}
              },
              {
                "width": 289, "height": 192,
                "title": {"text": "mTOR", "font": "Liberation Sans", "fontSize": 17.5, "fontWeight": "bold", "frame": "group", "offset": 9},
                "layer": [
                  {"data": {"name": "bars"}, "transform": [{"filter": "datum.chart === 'mTOR'"}],
                   "mark": {"type": "bar", "stroke": "black", "strokeWidth": 3},
                   "encoding": {
                     "x": {"field": "cat", "type": "nominal", "sort": null, "scale": {"domain": ["Vehicle","Vist","Fulv","Vist + Fulv"], "paddingInner": 0.41, "paddingOuter": 0.39}, "axis": {"title": null, "labelAngle": -45, "labelAlign": "right", "labelBaseline": "top", "labelFont": "Liberation Sans", "labelFontSize": 15, "labelFontWeight": "bold", "labelPadding": 3, "tickSize": 5, "tickWidth": 2, "domainWidth": 2.5}},
                     "y": {"field": "val", "type": "quantitative", "scale": {"domain": [0, 60], "nice": false}, "axis": {"values": [0,20,40,60], "tickCount": 30, "format": "d", "title": "% +ve cells", "titleFont": "Liberation Sans", "titleFontSize": 15.5, "titleFontWeight": "bold", "titlePadding": 5, "labelFont": "Liberation Sans", "labelFontSize": 15, "labelFontWeight": "bold", "labelPadding": 2, "tickSize": 5, "tickWidth": 2, "domainWidth": 2.5}},
                     "fill": {"field": "cat", "type": "nominal", "scale": {"domain": ["Vehicle","Vist","Fulv","Vist + Fulv"], "range": ["#0000FF","#FF6A00","#FF0000","#000000"]}, "legend": null}
                   }},
                  {"data": {"name": "bars"}, "transform": [{"filter": "datum.chart === 'mTOR'"}],
                   "mark": {"type": "rule", "color": "black", "strokeWidth": 2.5},
                   "encoding": {"x": {"field": "idx", "type": "quantitative", "scale": {"domain": [-0.685, 3.685], "nice": false, "zero": false}, "axis": null}, "y": {"field": "val", "type": "quantitative", "scale": {"domain": [0, 60]}}, "y2": {"field": "top"}}},
                  {"data": {"name": "bars"}, "transform": [{"filter": "datum.chart === 'mTOR'"}],
                   "mark": {"type": "tick", "orient": "horizontal", "size": 22, "thickness": 2.5, "color": "black"},
                   "encoding": {"x": {"field": "idx", "type": "quantitative", "scale": {"domain": [-0.685, 3.685], "nice": false, "zero": false}, "axis": null}, "y": {"field": "top", "type": "quantitative", "scale": {"domain": [0, 60]}}}},
                  {"data": {"name": "brk"}, "transform": [{"filter": "datum.chart === 'mTOR'"}],
                   "mark": {"type": "line", "color": "black", "strokeWidth": 3},
                   "encoding": {"x": {"field": "x", "type": "quantitative", "scale": {"domain": [-0.685, 3.685], "nice": false, "zero": false}, "axis": null}, "y": {"field": "y", "type": "quantitative", "scale": {"domain": [0, 60]}}, "detail": {"field": "b", "type": "nominal"}, "order": {"field": "seq", "type": "quantitative"}}},
                  {"data": {"name": "ptxt"}, "transform": [{"filter": "datum.chart === 'mTOR'"}],
                   "mark": {"type": "text", "font": "Liberation Sans", "fontSize": 15.5, "baseline": "middle", "color": "black"},
                   "encoding": {"x": {"field": "x", "type": "quantitative", "scale": {"domain": [-0.685, 3.685], "nice": false, "zero": false}, "axis": null}, "y": {"field": "y", "type": "quantitative", "scale": {"domain": [0, 60]}}, "text": {"field": "label"}}}
                ],
                "resolve": {"scale": {"x": "independent"}}
              },
              {
                "width": 293, "height": 193,
                "title": {"text": "pAKTˢᵉʳ⁴⁷³", "font": "Liberation Sans", "fontSize": 17.5, "fontWeight": "bold", "frame": "group", "offset": 14},
                "layer": [
                  {"data": {"name": "bars"}, "transform": [{"filter": "datum.chart === 'pAKT'"}],
                   "mark": {"type": "bar", "stroke": "black", "strokeWidth": 3},
                   "encoding": {
                     "x": {"field": "cat", "type": "nominal", "sort": null, "scale": {"domain": ["Vehicle","Vist","Fulv","Vist + Fulv"], "paddingInner": 0.41, "paddingOuter": 0.39}, "axis": {"title": null, "labelAngle": -45, "labelAlign": "right", "labelBaseline": "top", "labelFont": "Liberation Sans", "labelFontSize": 15, "labelFontWeight": "bold", "labelPadding": 3, "tickSize": 5, "tickWidth": 2, "domainWidth": 2.5}},
                     "y": {"field": "val", "type": "quantitative", "scale": {"domain": [0, 5], "nice": false}, "axis": {"values": [0,1,2,3,4,5], "tickCount": 30, "format": "d", "title": "Membrane area (log10)", "titleFont": "Liberation Sans", "titleFontSize": 15.5, "titleFontWeight": "bold", "titlePadding": 5, "labelFont": "Liberation Sans", "labelFontSize": 15, "labelFontWeight": "bold", "labelPadding": 2, "tickSize": 5, "tickWidth": 2, "domainWidth": 2.5}},
                     "fill": {"field": "cat", "type": "nominal", "scale": {"domain": ["Vehicle","Vist","Fulv","Vist + Fulv"], "range": ["#0000FF","#FF6A00","#FF0000","#000000"]}, "legend": null}
                   }},
                  {"data": {"name": "bars"}, "transform": [{"filter": "datum.chart === 'pAKT'"}],
                   "mark": {"type": "rule", "color": "black", "strokeWidth": 2.5},
                   "encoding": {"x": {"field": "idx", "type": "quantitative", "scale": {"domain": [-0.685, 3.685], "nice": false, "zero": false}, "axis": null}, "y": {"field": "val", "type": "quantitative", "scale": {"domain": [0, 5]}}, "y2": {"field": "top"}}},
                  {"data": {"name": "bars"}, "transform": [{"filter": "datum.chart === 'pAKT'"}],
                   "mark": {"type": "tick", "orient": "horizontal", "size": 22, "thickness": 2.5, "color": "black"},
                   "encoding": {"x": {"field": "idx", "type": "quantitative", "scale": {"domain": [-0.685, 3.685], "nice": false, "zero": false}, "axis": null}, "y": {"field": "top", "type": "quantitative", "scale": {"domain": [0, 5]}}}},
                  {"data": {"name": "brk"}, "transform": [{"filter": "datum.chart === 'pAKT'"}],
                   "mark": {"type": "line", "color": "black", "strokeWidth": 3},
                   "encoding": {"x": {"field": "x", "type": "quantitative", "scale": {"domain": [-0.685, 3.685], "nice": false, "zero": false}, "axis": null}, "y": {"field": "y", "type": "quantitative", "scale": {"domain": [0, 5]}}, "detail": {"field": "b", "type": "nominal"}, "order": {"field": "seq", "type": "quantitative"}}},
                  {"data": {"name": "ptxt"}, "transform": [{"filter": "datum.chart === 'pAKT'"}],
                   "mark": {"type": "text", "font": "Liberation Sans", "fontSize": 15.5, "baseline": "middle", "color": "black"},
                   "encoding": {"x": {"field": "x", "type": "quantitative", "scale": {"domain": [-0.685, 3.685], "nice": false, "zero": false}, "axis": null}, "y": {"field": "y", "type": "quantitative", "scale": {"domain": [0, 5]}}, "text": {"field": "label"}}}
                ],
                "resolve": {"scale": {"x": "independent"}}
              }
            ]
          },
          {
            "spacing": 42,
            "hconcat": [
              {"width": 24, "height": 10, "data": {"values": []}, "mark": "point"},
              {
                "width": 289, "height": 192,
                "title": {"text": "pERK1/2", "font": "Liberation Sans", "fontSize": 17.5, "fontWeight": "bold", "frame": "group", "offset": 1},
                "layer": [
                  {"data": {"name": "bars"}, "transform": [{"filter": "datum.chart === 'pERK'"}],
                   "mark": {"type": "bar", "stroke": "black", "strokeWidth": 3},
                   "encoding": {
                     "x": {"field": "cat", "type": "nominal", "sort": null, "scale": {"domain": ["Vehicle","Vist","Fulv","Vist + Fulv"], "paddingInner": 0.41, "paddingOuter": 0.39}, "axis": {"title": null, "labelAngle": -45, "labelAlign": "right", "labelBaseline": "top", "labelFont": "Liberation Sans", "labelFontSize": 15, "labelFontWeight": "bold", "labelPadding": 3, "tickSize": 5, "tickWidth": 2, "domainWidth": 2.5}},
                     "y": {"field": "val", "type": "quantitative", "scale": {"domain": [0, 80], "nice": false}, "axis": {"values": [0,20,40,60,80], "tickCount": 30, "format": "d", "title": "% +ve cells", "titleFont": "Liberation Sans", "titleFontSize": 15.5, "titleFontWeight": "bold", "titlePadding": 5, "labelFont": "Liberation Sans", "labelFontSize": 15, "labelFontWeight": "bold", "labelPadding": 2, "tickSize": 5, "tickWidth": 2, "domainWidth": 2.5}},
                     "fill": {"field": "cat", "type": "nominal", "scale": {"domain": ["Vehicle","Vist","Fulv","Vist + Fulv"], "range": ["#0000FF","#FF6A00","#FF0000","#000000"]}, "legend": null}
                   }},
                  {"data": {"name": "bars"}, "transform": [{"filter": "datum.chart === 'pERK'"}],
                   "mark": {"type": "rule", "color": "black", "strokeWidth": 2.5},
                   "encoding": {"x": {"field": "idx", "type": "quantitative", "scale": {"domain": [-0.685, 3.685], "nice": false, "zero": false}, "axis": null}, "y": {"field": "val", "type": "quantitative", "scale": {"domain": [0, 80]}}, "y2": {"field": "top"}}},
                  {"data": {"name": "bars"}, "transform": [{"filter": "datum.chart === 'pERK'"}],
                   "mark": {"type": "tick", "orient": "horizontal", "size": 22, "thickness": 2.5, "color": "black"},
                   "encoding": {"x": {"field": "idx", "type": "quantitative", "scale": {"domain": [-0.685, 3.685], "nice": false, "zero": false}, "axis": null}, "y": {"field": "top", "type": "quantitative", "scale": {"domain": [0, 80]}}}},
                  {"data": {"name": "brk"}, "transform": [{"filter": "datum.chart === 'pERK'"}],
                   "mark": {"type": "line", "color": "black", "strokeWidth": 3},
                   "encoding": {"x": {"field": "x", "type": "quantitative", "scale": {"domain": [-0.685, 3.685], "nice": false, "zero": false}, "axis": null}, "y": {"field": "y", "type": "quantitative", "scale": {"domain": [0, 80]}}, "detail": {"field": "b", "type": "nominal"}, "order": {"field": "seq", "type": "quantitative"}}},
                  {"data": {"name": "ptxt"}, "transform": [{"filter": "datum.chart === 'pERK'"}],
                   "mark": {"type": "text", "font": "Liberation Sans", "fontSize": 15.5, "baseline": "middle", "color": "black"},
                   "encoding": {"x": {"field": "x", "type": "quantitative", "scale": {"domain": [-0.685, 3.685], "nice": false, "zero": false}, "axis": null}, "y": {"field": "y", "type": "quantitative", "scale": {"domain": [0, 80]}}, "text": {"field": "label"}}}
                ],
                "resolve": {"scale": {"x": "independent"}}
              },
              {
                "width": 286, "height": 187,
                "title": {"text": "p4EBP1", "font": "Liberation Sans", "fontSize": 17.5, "fontWeight": "bold", "frame": "group", "offset": 4},
                "layer": [
                  {"data": {"name": "bars"}, "transform": [{"filter": "datum.chart === 'p4EBP1'"}],
                   "mark": {"type": "bar", "stroke": "black", "strokeWidth": 3},
                   "encoding": {
                     "x": {"field": "cat", "type": "nominal", "sort": null, "scale": {"domain": ["Vehicle","Vist","Fulv","Vist + Fulv"], "paddingInner": 0.41, "paddingOuter": 0.39}, "axis": {"title": null, "labelAngle": -45, "labelAlign": "right", "labelBaseline": "top", "labelFont": "Liberation Sans", "labelFontSize": 15, "labelFontWeight": "bold", "labelPadding": 3, "tickSize": 5, "tickWidth": 2, "domainWidth": 2.5}},
                     "y": {"field": "val", "type": "quantitative", "scale": {"domain": [0, 100], "nice": false}, "axis": {"values": [0,20,40,60,80,100], "tickCount": 30, "format": "d", "title": "% +ve cells", "titleFont": "Liberation Sans", "titleFontSize": 15.5, "titleFontWeight": "bold", "titlePadding": 5, "labelFont": "Liberation Sans", "labelFontSize": 15, "labelFontWeight": "bold", "labelPadding": 2, "tickSize": 5, "tickWidth": 2, "domainWidth": 2.5}},
                     "fill": {"field": "cat", "type": "nominal", "scale": {"domain": ["Vehicle","Vist","Fulv","Vist + Fulv"], "range": ["#0000FF","#FF6A00","#FF0000","#000000"]}, "legend": null}
                   }},
                  {"data": {"name": "bars"}, "transform": [{"filter": "datum.chart === 'p4EBP1'"}],
                   "mark": {"type": "rule", "color": "black", "strokeWidth": 2.5},
                   "encoding": {"x": {"field": "idx", "type": "quantitative", "scale": {"domain": [-0.685, 3.685], "nice": false, "zero": false}, "axis": null}, "y": {"field": "val", "type": "quantitative", "scale": {"domain": [0, 100]}}, "y2": {"field": "top"}}},
                  {"data": {"name": "bars"}, "transform": [{"filter": "datum.chart === 'p4EBP1'"}],
                   "mark": {"type": "tick", "orient": "horizontal", "size": 22, "thickness": 2.5, "color": "black"},
                   "encoding": {"x": {"field": "idx", "type": "quantitative", "scale": {"domain": [-0.685, 3.685], "nice": false, "zero": false}, "axis": null}, "y": {"field": "top", "type": "quantitative", "scale": {"domain": [0, 100]}}}},
                  {"data": {"name": "brk"}, "transform": [{"filter": "datum.chart === 'p4EBP1'"}],
                   "mark": {"type": "line", "color": "black", "strokeWidth": 3},
                   "encoding": {"x": {"field": "x", "type": "quantitative", "scale": {"domain": [-0.685, 3.685], "nice": false, "zero": false}, "axis": null}, "y": {"field": "y", "type": "quantitative", "scale": {"domain": [0, 100]}}, "detail": {"field": "b", "type": "nominal"}, "order": {"field": "seq", "type": "quantitative"}}},
                  {"data": {"name": "ptxt"}, "transform": [{"filter": "datum.chart === 'p4EBP1'"}],
                   "mark": {"type": "text", "font": "Liberation Sans", "fontSize": 15.5, "baseline": "middle", "color": "black"},
                   "encoding": {"x": {"field": "x", "type": "quantitative", "scale": {"domain": [-0.685, 3.685], "nice": false, "zero": false}, "axis": null}, "y": {"field": "y", "type": "quantitative", "scale": {"domain": [0, 100]}}, "text": {"field": "label"}}}
                ],
                "resolve": {"scale": {"x": "independent"}}
              },
              {
                "width": 287, "height": 187,
                "title": {"text": "pS6", "font": "Liberation Sans", "fontSize": 17.5, "fontWeight": "bold", "frame": "group", "offset": -1},
                "layer": [
                  {"data": {"name": "bars"}, "transform": [{"filter": "datum.chart === 'pS6'"}],
                   "mark": {"type": "bar", "stroke": "black", "strokeWidth": 3},
                   "encoding": {
                     "x": {"field": "cat", "type": "nominal", "sort": null, "scale": {"domain": ["Vehicle","Vist","Fulv","Vist + Fulv"], "paddingInner": 0.41, "paddingOuter": 0.39}, "axis": {"title": null, "labelAngle": -45, "labelAlign": "right", "labelBaseline": "top", "labelFont": "Liberation Sans", "labelFontSize": 15, "labelFontWeight": "bold", "labelPadding": 3, "tickSize": 5, "tickWidth": 2, "domainWidth": 2.5}},
                     "y": {"field": "val", "type": "quantitative", "scale": {"domain": [0, 100], "nice": false}, "axis": {"values": [0,20,40,60,80,100], "tickCount": 30, "format": "d", "title": "% +ve cells", "titleFont": "Liberation Sans", "titleFontSize": 15.5, "titleFontWeight": "bold", "titlePadding": 5, "labelFont": "Liberation Sans", "labelFontSize": 15, "labelFontWeight": "bold", "labelPadding": 2, "tickSize": 5, "tickWidth": 2, "domainWidth": 2.5}},
                     "fill": {"field": "cat", "type": "nominal", "scale": {"domain": ["Vehicle","Vist","Fulv","Vist + Fulv"], "range": ["#0000FF","#FF6A00","#FF0000","#000000"]}, "legend": null}
                   }},
                  {"data": {"name": "bars"}, "transform": [{"filter": "datum.chart === 'pS6'"}],
                   "mark": {"type": "rule", "color": "black", "strokeWidth": 2.5},
                   "encoding": {"x": {"field": "idx", "type": "quantitative", "scale": {"domain": [-0.685, 3.685], "nice": false, "zero": false}, "axis": null}, "y": {"field": "val", "type": "quantitative", "scale": {"domain": [0, 100]}}, "y2": {"field": "top"}}},
                  {"data": {"name": "bars"}, "transform": [{"filter": "datum.chart === 'pS6'"}],
                   "mark": {"type": "tick", "orient": "horizontal", "size": 22, "thickness": 2.5, "color": "black"},
                   "encoding": {"x": {"field": "idx", "type": "quantitative", "scale": {"domain": [-0.685, 3.685], "nice": false, "zero": false}, "axis": null}, "y": {"field": "top", "type": "quantitative", "scale": {"domain": [0, 100]}}}},
                  {"data": {"name": "brk"}, "transform": [{"filter": "datum.chart === 'pS6'"}],
                   "mark": {"type": "line", "color": "black", "strokeWidth": 3},
                   "encoding": {"x": {"field": "x", "type": "quantitative", "scale": {"domain": [-0.685, 3.685], "nice": false, "zero": false}, "axis": null}, "y": {"field": "y", "type": "quantitative", "scale": {"domain": [0, 100]}}, "detail": {"field": "b", "type": "nominal"}, "order": {"field": "seq", "type": "quantitative"}}},
                  {"data": {"name": "ptxt"}, "transform": [{"filter": "datum.chart === 'pS6'"}],
                   "mark": {"type": "text", "font": "Liberation Sans", "fontSize": 15.5, "baseline": "middle", "color": "black"},
                   "encoding": {"x": {"field": "x", "type": "quantitative", "scale": {"domain": [-0.685, 3.685], "nice": false, "zero": false}, "axis": null}, "y": {"field": "y", "type": "quantitative", "scale": {"domain": [0, 100]}}, "text": {"field": "label"}}}
                ],
                "resolve": {"scale": {"x": "independent"}}
              }
            ]
          }
        ]
      }
    ]
  }
]
}
